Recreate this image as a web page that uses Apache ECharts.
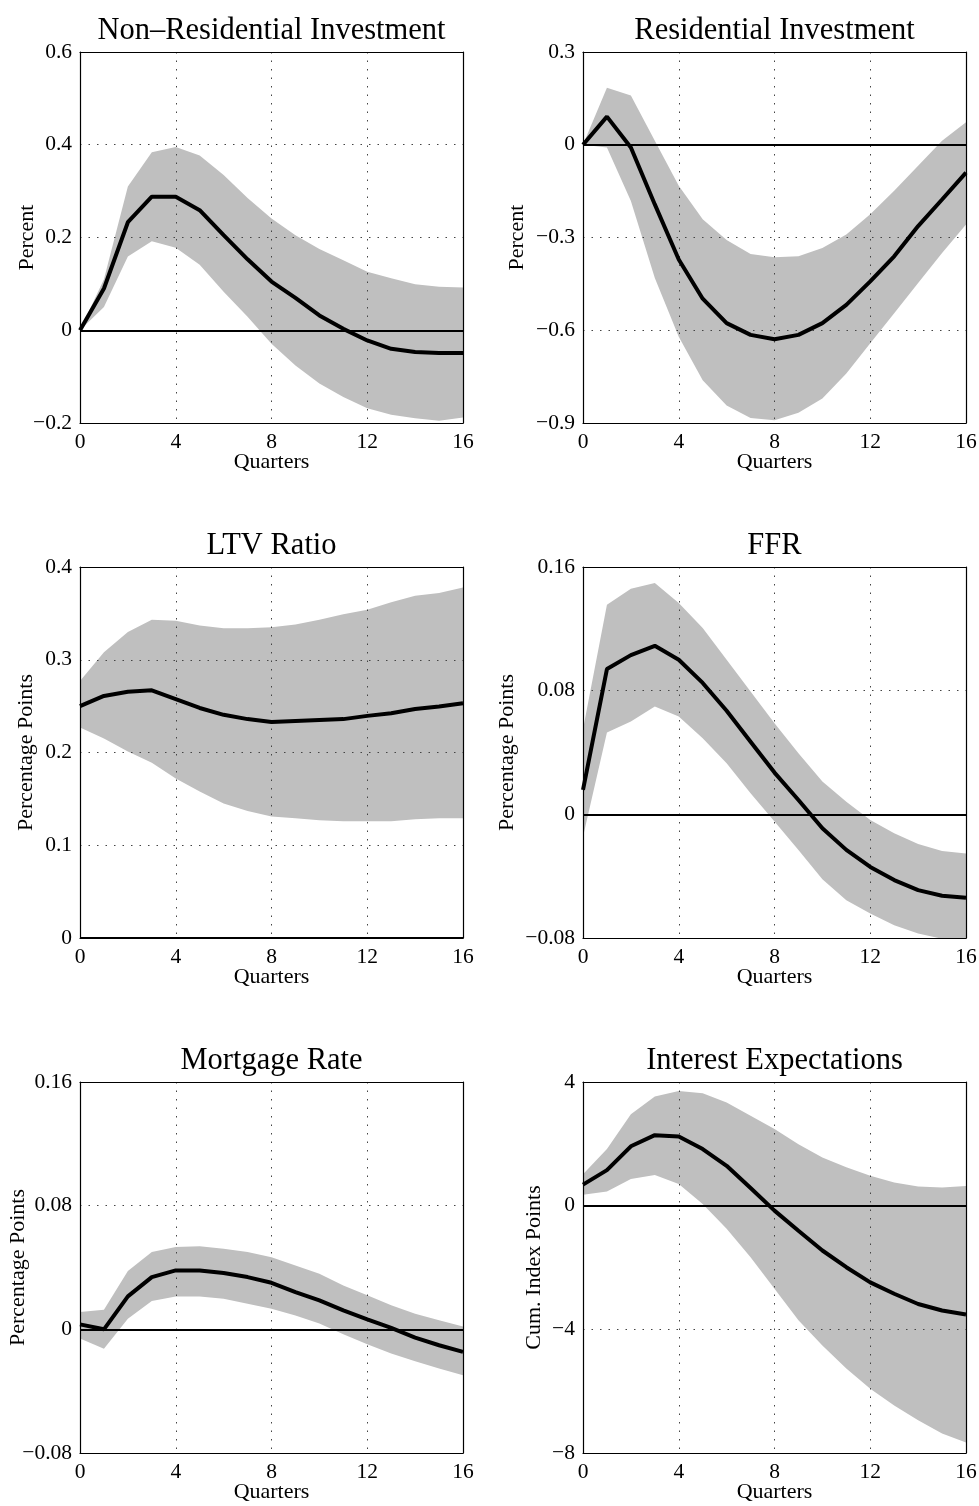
<!DOCTYPE html>
<html>
<head>
<meta charset="utf-8">
<script src="https://cdn.jsdelivr.net/npm/echarts@6/dist/echarts.min.js"></script>
<style>
html,body{margin:0;padding:0;background:#fff;}
#chart{width:979px;height:1506px;}
</style>
</head>
<body>
<div id="chart"></div>
<script>
// ---- Data ----
const quarters = [0,1,2,3,4,5,6,7,8,9,10,11,12,13,14,15,16];
const xTicks = [0,4,8,12,16];

const titles = ["Non\u2013Residential Investment","Residential Investment","LTV Ratio","FFR","Mortgage Rate","Interest Expectations"];
const yNames = ["Percent","Percent","Percentage Points","Percentage Points","Percentage Points","Cum. Index Points"];
const yMin = [-0.2,-0.9,0,-0.08,-0.08,-8];
const yMax = [0.6,0.3,0.4,0.16,0.16,4];
const yStep = [0.2,0.3,0.1,0.08,0.08,4];

const nonResMean  = [0,0.09,0.233,0.288,0.288,0.259,0.205,0.153,0.105,0.070,0.032,0.003,-0.022,-0.040,-0.047,-0.049,-0.049];
const nonResUpper = [0,0.110,0.310,0.384,0.395,0.377,0.335,0.285,0.241,0.205,0.175,0.151,0.126,0.112,0.099,0.094,0.092];
const nonResLower = [0,0.050,0.159,0.192,0.178,0.141,0.083,0.029,-0.029,-0.076,-0.115,-0.144,-0.168,-0.182,-0.190,-0.195,-0.188];

const resMean  = [0,0.091,-0.009,-0.193,-0.371,-0.498,-0.577,-0.615,-0.629,-0.615,-0.577,-0.518,-0.442,-0.361,-0.263,-0.177,-0.090];
const resUpper = [0,0.184,0.159,0.013,-0.133,-0.241,-0.308,-0.353,-0.364,-0.361,-0.334,-0.290,-0.225,-0.149,-0.068,0.013,0.073];
const resLower = [0,-0.009,-0.182,-0.431,-0.621,-0.762,-0.843,-0.884,-0.891,-0.867,-0.821,-0.740,-0.642,-0.545,-0.447,-0.350,-0.258];

const ltvMean  = [0.250,0.261,0.2655,0.267,0.2576,0.248,0.2406,0.236,0.233,0.234,0.235,0.236,0.2395,0.2424,0.247,0.2497,0.253];
const ltvUpper = [0.277,0.308,0.330,0.343,0.342,0.337,0.334,0.334,0.335,0.338,0.343,0.349,0.354,0.362,0.369,0.372,0.378];
const ltvLower = [0.227,0.215,0.201,0.189,0.172,0.158,0.145,0.137,0.131,0.129,0.127,0.126,0.126,0.126,0.128,0.129,0.129];

const ffrMean  = [0.0158,0.094,0.103,0.109,0.100,0.085,0.067,0.047,0.027,0.0093,-0.009,-0.023,-0.034,-0.0425,-0.049,-0.0527,-0.054];
const ffrUpper = [0.055,0.1356,0.146,0.1496,0.1367,0.1205,0.100,0.0795,0.059,0.0395,0.0212,0.0082,-0.0037,-0.0123,-0.0192,-0.0237,-0.0253];
const ffrLower = [-0.0145,0.053,0.060,0.0697,0.0633,0.0492,0.033,0.0136,-0.0047,-0.0231,-0.042,-0.0555,-0.0641,-0.0717,-0.0771,-0.0805,-0.082];

const mortMean  = [0.0032,0,0.0213,0.0338,0.0381,0.0381,0.0364,0.0338,0.0301,0.0241,0.0187,0.0123,0.0065,0.0009,-0.0054,-0.0103,-0.0146];
const mortUpper = [0.0112,0.0127,0.0377,0.0500,0.0532,0.0538,0.0521,0.0500,0.0467,0.0413,0.0360,0.0284,0.0220,0.0155,0.0101,0.0058,0.0019];
const mortLower = [-0.006,-0.0125,0.0069,0.0183,0.0213,0.0213,0.0198,0.0166,0.0133,0.0090,0.0037,-0.0032,-0.0097,-0.0157,-0.0207,-0.0254,-0.0297];

const expMean  = [0.68,1.15,1.92,2.28,2.24,1.83,1.29,0.57,-0.16,-0.81,-1.45,-1.99,-2.48,-2.85,-3.18,-3.39,-3.52];
const expUpper = [1.02,1.83,2.96,3.53,3.71,3.64,3.34,2.91,2.48,1.99,1.56,1.24,0.97,0.75,0.62,0.59,0.635];
const expLower = [0.355,0.46,0.86,0.99,0.70,0.05,-0.75,-1.67,-2.69,-3.71,-4.52,-5.27,-5.92,-6.46,-6.94,-7.37,-7.66];

const means  = [nonResMean, resMean, ltvMean, ffrMean, mortMean, expMean];
const uppers = [nonResUpper, resUpper, ltvUpper, ffrUpper, mortUpper, expUpper];
const lowers = [nonResLower, resLower, ltvLower, ffrLower, mortLower, expLower];

// ---- Layout ----
const colLeft = [80, 583];
const plotW = 383;
const rowTop = [52, 567, 1082];
const plotH = 371;
const yNameGap = [42, 55, 43, 65, 51, 38];
const FONT = "Liberation Serif";

const grids = [], xAxes = [], yAxes = [], series = [], titleArr = [];
const fmt = v => {
  let s = (Math.round(v * 10000) / 10000).toString();
  return s.replace('-', '\u2212');
};

function bandRenderer(idx) {
  return function (params, api) {
    if (params.dataIndex !== 0) return null;
    const up = uppers[idx], lo = lowers[idx];
    const pts = [];
    for (let k = 0; k < quarters.length; k++) pts.push(api.coord([quarters[k], up[k]]));
    for (let k = quarters.length - 1; k >= 0; k--) pts.push(api.coord([quarters[k], lo[k]]));
    const cs = params.coordSys;
    return {
      type: 'polygon',
      shape: { points: pts },
      style: { fill: '#bfbfbf', stroke: null },
      clipPath: { type: 'rect', shape: { x: cs.x, y: cs.y, width: cs.width, height: cs.height } }
    };
  };
}

for (let i = 0; i < 6; i++) {
  const c = i % 2, r = Math.floor(i / 2);
  grids.push({ left: colLeft[c], top: rowTop[r], width: plotW, height: plotH, containLabel: false, outerBoundsMode: 'none' });
  titleArr.push({
    text: titles[i], left: colLeft[c] + plotW / 2, top: rowTop[r] - 37, textAlign: 'center', padding: 0,
    textStyle: { fontFamily: FONT, fontSize: 30.5, fontWeight: 'normal', color: '#000' }
  });
  const gridLine = { show: true, lineStyle: { color: '#444', width: 1, type: [1.5, 7] } };
  xAxes.push({
    gridIndex: i, type: 'value', min: 0, max: 16, interval: 4, position: 'bottom', z: 5,
    name: 'Quarters', nameLocation: 'middle', nameGap: 28, nameMoveOverlap: false,
    nameTextStyle: { fontFamily: FONT, fontSize: 22, color: '#000' },
    axisLine: { show: true, onZero: false, lineStyle: { color: '#000', width: 1.2 } },
    axisTick: { show: false },
    axisLabel: { fontFamily: FONT, fontSize: 21.5, color: '#000', margin: 8, showMinLabel: true, showMaxLabel: true },
    splitLine: gridLine
  });
  xAxes.push({
    gridIndex: i, type: 'value', min: 0, max: 16, interval: 4, position: 'top', z: 5,
    axisLine: { show: true, onZero: false, lineStyle: { color: '#000', width: 1.2 } },
    axisTick: { show: false }, axisLabel: { show: false }, splitLine: { show: false }
  });
  yAxes.push({
    gridIndex: i, type: 'value', min: yMin[i], max: yMax[i], interval: yStep[i], position: 'left', z: 5,
    name: yNames[i], nameLocation: 'middle', nameGap: yNameGap[i], nameMoveOverlap: false,
    nameTextStyle: { fontFamily: FONT, fontSize: 22, color: '#000' },
    axisLine: { show: true, onZero: false, lineStyle: { color: '#000', width: 1.2 } },
    axisTick: { show: false },
    axisLabel: { fontFamily: FONT, fontSize: 21.5, color: '#000', margin: 8, formatter: fmt, showMinLabel: true, showMaxLabel: true },
    splitLine: gridLine
  });
  yAxes.push({
    gridIndex: i, type: 'value', min: yMin[i], max: yMax[i], interval: yStep[i], position: 'right', z: 5,
    axisLine: { show: true, onZero: false, lineStyle: { color: '#000', width: 1.2 } },
    axisTick: { show: false }, axisLabel: { show: false }, splitLine: { show: false }
  });
  const xi = i * 2, yi = i * 2;
  const bandData = quarters.map((q, k) => [q, lowers[i][k], uppers[i][k]]);
  const meanData = quarters.map((q, k) => [q, means[i][k]]);
  series.push({
    type: 'custom', xAxisIndex: xi, yAxisIndex: yi, data: bandData,
    encode: { x: 0, y: [1, 2] }, renderItem: bandRenderer(i), silent: true, z: 2, animation: false
  });
  series.push({
    type: 'line', xAxisIndex: xi, yAxisIndex: yi, data: meanData, symbol: 'none',
    lineStyle: { color: '#000', width: 4 }, z: 20, animation: false,
    markLine: {
      silent: true, symbol: 'none', animation: false, label: { show: false }, z: 10,
      lineStyle: { color: '#000', width: 2, type: 'solid' },
      data: [{ yAxis: 0 }]
    }
  });
}

const chart = echarts.init(document.getElementById('chart'), null, { renderer: 'canvas' });
chart.setOption({
  backgroundColor: '#fff',
  animation: false,
  title: titleArr,
  grid: grids,
  xAxis: xAxes,
  yAxis: yAxes,
  series: series
});
</script>
</body>
</html>
